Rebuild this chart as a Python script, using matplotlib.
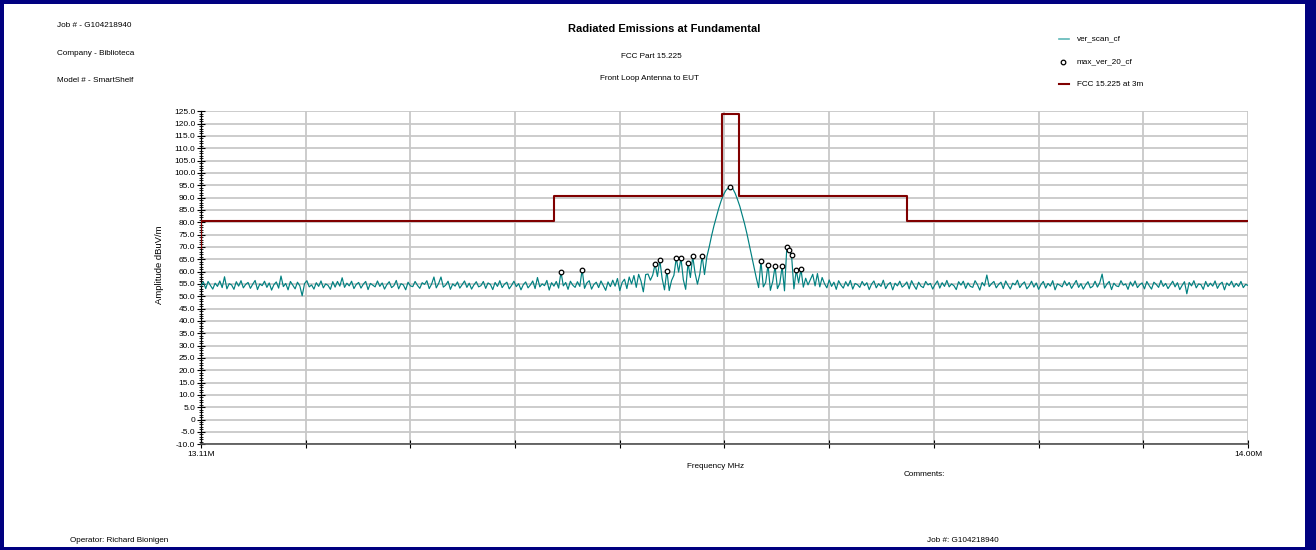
import numpy as np
import matplotlib
matplotlib.use("Agg")
import matplotlib.pyplot as plt
from matplotlib.lines import Line2D
from matplotlib.patches import Rectangle

plt.rcParams['font.family'] = ['Liberation Sans', 'DejaVu Sans']

# Vertical scan, corrected field strength (dBuV/m), 2 kHz steps from 13.11 to 14.00 MHz
scan_start, scan_stop = 13.11, 14.00
ver_scan_cf = [
    54.2, 55.8, 53.1, 56.0, 54.4, 52.9, 55.3, 54.0, 56.2, 53.5, 57.9, 53.0, 55.1, 54.6, 52.8, 55.9, 54.1, 56.3, 53.4, 54.8,
    55.6, 53.2, 54.9, 56.4, 52.7, 55.0, 54.3, 56.1, 53.6, 55.4, 52.5, 54.7, 55.8, 53.3, 58.2, 53.9, 55.2, 52.6, 56.0, 54.5,
    53.0, 55.7, 54.2, 50.2, 55.1, 56.3, 53.8, 54.6, 52.9, 55.5, 54.0, 56.2, 53.4, 55.0, 54.4, 52.8, 55.9, 53.7, 56.0, 54.1,
    57.5, 53.6, 55.3, 54.2, 56.1, 53.1, 54.8, 55.6, 53.3, 54.9, 56.0, 52.7, 55.2, 54.5, 53.8, 56.2, 54.0, 55.4, 52.9, 54.7,
    55.9, 53.5, 54.3, 56.4, 53.0, 55.1, 54.6, 52.6, 55.7, 54.2, 53.9, 56.0, 54.4, 53.2, 55.5, 54.8, 56.3, 53.1, 54.9, 57.8,
    53.4, 55.2, 57.8, 53.7, 54.5, 56.1, 52.8, 55.0, 54.1, 55.8, 53.3, 54.7, 56.2, 53.6, 55.3, 52.9, 54.6, 55.9, 53.8, 54.3,
    56.0, 53.2, 55.4, 54.8, 52.7, 55.6, 54.0, 56.3, 53.5, 54.9, 55.7, 53.0, 54.4, 56.1, 53.9, 55.1, 52.6, 54.7, 55.8, 53.4,
    54.6, 56.2, 53.1, 57.6, 53.8, 55.0, 54.3, 56.4, 52.5, 55.5, 54.1, 56.0, 53.3, 59.8, 54.2, 55.6, 52.8, 56.1, 54.5, 53.6,
    55.9, 54.0, 60.8, 53.2, 55.4, 56.3, 52.9, 54.8, 55.7, 53.5, 56.2, 54.3, 52.4, 55.8, 53.9, 56.5, 54.1, 57.2, 52.3, 55.6,
    56.9, 53.1, 57.8, 55.0, 58.4, 53.6, 58.9, 56.2, 51.8, 58.8, 59.0, 56.5, 58.6, 63.0, 58.0, 64.7, 57.2, 52.6, 60.4, 52.3,
    56.4, 58.5, 65.5, 59.8, 65.5, 56.7, 52.8, 63.5, 57.6, 66.2, 59.3, 54.9, 59.0, 66.4, 58.8, 66.0, 70.0, 74.5, 78.5, 82.0,
    85.5, 88.5, 91.0, 92.8, 93.9, 94.2, 93.7, 91.8, 89.3, 86.5, 83.0, 79.5, 75.5, 71.0, 66.5, 62.0, 57.5, 53.5, 64.2, 53.8,
    55.6, 62.8, 52.4, 56.0, 62.1, 53.1, 55.2, 62.1, 52.2, 70.0, 68.6, 66.6, 53.0, 60.6, 55.4, 61.0, 53.7, 57.3, 54.6, 56.8,
    58.9, 54.2, 59.2, 53.8, 57.6, 55.1, 53.4, 56.6, 54.0, 55.7, 52.8, 56.3, 54.5, 53.3, 55.9, 54.1, 56.4, 52.9, 55.2, 54.7,
    53.6, 56.0, 54.3, 55.5, 52.7, 54.9, 56.2, 53.4, 55.1, 54.0, 56.5, 53.1, 54.8, 55.6, 52.6, 55.3, 54.2, 56.1, 53.7, 54.5,
    55.8, 53.0, 56.3, 54.4, 52.8, 55.7, 54.1, 53.5, 56.0, 54.6, 55.2, 52.9, 54.8, 56.2, 53.3, 55.5, 54.0, 56.4, 53.8, 55.0,
    54.3, 52.7, 55.9, 54.5, 56.1, 53.2, 55.4, 54.0, 53.6, 56.3, 54.7, 52.5, 55.6, 54.2, 58.6, 53.9, 55.1, 56.0, 53.4, 54.8,
    55.7, 53.1, 56.2, 54.4, 52.9, 55.3, 54.6, 56.5, 53.5, 54.9, 55.8, 53.0, 54.2, 56.1, 53.7, 55.4, 52.8, 54.7, 56.0, 53.3,
    55.2, 54.1, 56.3, 52.6, 55.0, 54.5, 53.8, 56.2, 54.3, 55.6, 53.2, 54.8, 56.4, 53.6, 55.1, 52.9, 54.6, 55.9, 53.4, 54.0,
    56.1, 53.7, 55.5, 59.0, 53.3, 54.9, 56.0, 52.7, 55.3, 54.2, 53.9, 56.3, 54.5, 55.0, 52.8, 55.8, 54.1, 56.2, 53.5, 54.7,
    55.4, 53.0, 56.0, 54.3, 52.9, 55.7, 54.8, 53.6, 56.4, 54.0, 55.2, 53.1, 54.6, 56.1, 53.8, 55.5, 52.7, 54.4, 55.9, 51.0,
    55.6, 54.2, 56.3, 53.4, 55.0, 54.7, 52.8, 56.0, 53.9, 55.3, 54.1, 56.2, 53.2, 54.9, 55.7, 52.6, 55.4, 54.3, 56.1, 53.7,
    55.2, 54.0, 56.0, 53.5, 54.8, 54.4,
]
scan_freq = np.linspace(scan_start, scan_stop, len(ver_scan_cf))

# 20 maximised readings
max_freq = [13.416, 13.434, 13.496, 13.500, 13.506, 13.514, 13.518, 13.524, 13.528, 13.536,
            13.560, 13.586, 13.592, 13.598, 13.604, 13.608, 13.610, 13.612, 13.616, 13.620]
max_amp = [59.8, 60.8, 63.0, 64.7, 60.4, 65.5, 65.5, 63.5, 66.2, 66.4,
           94.2, 64.2, 62.8, 62.1, 62.1, 70.0, 68.6, 66.6, 60.6, 61.0]

# FCC 15.225 limit mask at 3 m (band edges in MHz, level in dBuV/m)
limit_freq = [13.11, 13.11, 13.41, 13.553, 13.567, 13.71, 14.00]
limit_level = [69.5, 80.5, 90.5, 124.0, 90.5, 80.5, 80.5]

W, H = 1316, 550
fig = plt.figure(figsize=(W / 100, H / 100), dpi=100)
ax = fig.add_axes([201 / W, 1 - 444.2 / H, 1047 / W, 332.9 / H])

ax.plot(scan_freq, ver_scan_cf, color='#008080', lw=0.85, zorder=3)
ax.plot(limit_freq, limit_level, drawstyle='steps-post', color='#800000', lw=1.5, zorder=4)
ax.plot(max_freq, max_amp, 'o', ms=3.3, mfc='white', mec='black', mew=0.9, zorder=5)

ax.set_xlim(scan_start, scan_stop)
ax.set_ylim(-10, 125)

yt = np.arange(-10, 126, 5)
ax.set_yticks(yt, ['0' if v == 0 else f'{v:.1f}' for v in yt])
ax.set_yticks(np.arange(-10, 126, 1), minor=True)
xt = np.linspace(scan_start, scan_stop, 11)
ax.set_xticks(xt, ['13.11M'] + [''] * 9 + ['14.00M'])

ax.grid(True, which='major', color='#c8c8c8', lw=1.3)
ax.set_axisbelow(True)
ax.tick_params(axis='y', which='major', direction='inout', length=6, width=0.8, labelsize=6, pad=1)
ax.tick_params(axis='y', which='minor', direction='inout', length=3, width=0.6)
ax.tick_params(axis='x', direction='inout', length=6, width=0.8, labelsize=6, pad=2)
for s in ('top', 'right'):
    ax.spines[s].set_visible(False)
ax.spines['bottom'].set_color('#505050')
ax.spines['bottom'].set_linewidth(1.2)
ax.spines['left'].set_linewidth(0.9)


def px(x, y):
    return x / W, 1 - y / H


fs = 5.9

# header block
fig.text(*px(57, 25.7), 'Job # - G104218940', fontsize=fs, va='center')
fig.text(*px(57, 53.3), 'Company - Biblioteca', fontsize=fs, va='center')
fig.text(*px(57, 80.7), 'Model # - SmartShelf', fontsize=fs, va='center')
fig.text(*px(664, 29), 'Radiated Emissions at Fundamental', fontsize=8, fontweight='bold',
         ha='center', va='center')
fig.text(*px(651, 56.7), 'FCC Part 15.225', fontsize=fs, ha='center', va='center')
fig.text(*px(649, 78.7), 'Front Loop Antenna to EUT', fontsize=fs, ha='center', va='center')

# legend
leg_y = [39, 61.5, 84]
fig.add_artist(Line2D([1059 / W, 1069 / W], [1 - leg_y[0] / H] * 2, color='#5fb8b8', lw=1.2))
fig.add_artist(Line2D([1063 / W], [1 - leg_y[1] / H], marker='o', ms=3.3, mfc='white',
                      mec='black', mew=0.9, lw=0))
fig.add_artist(Line2D([1059 / W, 1069 / W], [1 - leg_y[2] / H] * 2, color='#800000', lw=1.5))
for y, name in zip(leg_y, ['ver_scan_cf', 'max_ver_20_cf', 'FCC 15.225 at 3m']):
    fig.text(*px(1077, y), name, fontsize=fs, va='center')

# axis titles and footer
fig.text(*px(160, 265), 'Amplitude dBuV/m', fontsize=6.8, rotation=90, ha='center', va='center')
fig.text(*px(716, 467), 'Frequency MHz', fontsize=fs, ha='center', va='center')
fig.text(*px(904, 474.3), 'Comments:', fontsize=fs, va='center')
fig.text(*px(70, 540), 'Operator: Richard Bionigen', fontsize=fs, va='center')
fig.text(*px(927, 540), 'Job #: G104218940', fontsize=fs, va='center')

# window frame
navy = '#000080'
for x0, y0, w, h in [(0, 0, 4, H), (1305, 0, W - 1305, H), (0, 0, W, 4), (0, H - 3, W, 3)]:
    fig.add_artist(Rectangle((x0 / W, 1 - (y0 + h) / H), w / W, h / H,
                             transform=fig.transFigure, color=navy, lw=0))

fig.savefig('out.png', dpi=100)
